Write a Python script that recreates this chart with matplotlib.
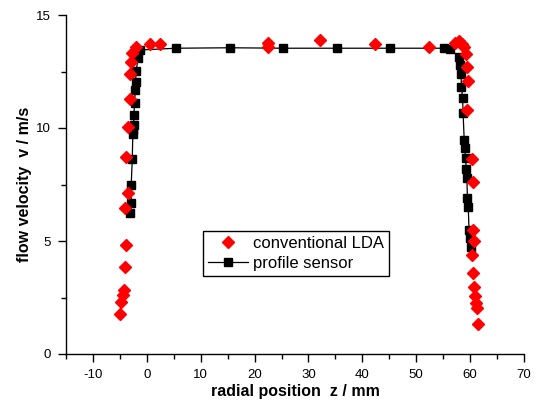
import matplotlib
matplotlib.use("Agg")
import matplotlib.pyplot as plt
from matplotlib.ticker import MultipleLocator

plt.rcParams['font.family'] = ['Liberation Sans', 'DejaVu Sans']
plt.rcParams['axes.unicode_minus'] = False

# conventional LDA measurements (z in mm, v in m/s)
lda_z = [-4.9, -4.7, -4.5, -4.3, -4.1, -3.9, -4.1, -3.5, -3.8, -3.5, -3.2, -3.07,
         -2.9, -2.7, -1.96, 0.5, 2.5, 22.4, 22.4, 32.2, 42.3, 52.3, 57.2, 57.9,
         58.5, 58.9, 59.3, 59.5, 59.65, 59.5, 60.3, 60.6, 60.6, 60.75, 60.3,
         60.45, 60.75, 60.9, 61.1, 61.2, 61.4]
lda_v = [1.77, 2.31, 2.61, 2.83, 3.84, 4.82, 6.45, 7.11, 8.73, 10.06, 11.28, 12.37,
         12.94, 13.3, 13.6, 13.72, 13.72, 13.78, 13.6, 13.9, 13.72, 13.6, 13.77, 13.86,
         13.72, 13.6, 13.27, 12.71, 12.09, 10.8, 8.61, 7.62, 5.49, 5.01, 4.38,
         3.6, 2.98, 2.57, 2.27, 2.02, 1.33]

# profile sensor measurements
ps_z = [-3.07, -2.9, -2.9, -2.7, -2.6, -2.5, -2.46, -2.4, -2.27, -2.15, -2.1, -1.96,
        -1.65, -1.35, 5.4, 15.4, 25.3, 35.3, 45.2, 55.2, 56.3, 57.9, 58.1, 58.3,
        58.4, 58.6, 58.7, 58.9, 59.0, 59.15, 59.3, 59.4, 59.5, 59.65, 59.8, 60.0, 60.1]
ps_v = [6.25, 6.7, 7.48, 8.61, 9.73, 9.91, 10.13, 10.58, 11.12, 11.68, 12.05, 12.54,
        13.08, 13.45, 13.53, 13.55, 13.53, 13.53, 13.53, 13.53, 13.5, 13.13, 12.79, 12.39,
        11.8, 11.31, 10.65, 9.47, 9.1, 8.66, 8.17, 7.77, 6.89, 6.52, 5.49, 5.12, 4.75]

fig = plt.figure(figsize=(5.38, 4.07), dpi=100)
ax = fig.add_axes([66/538, 1 - 354/407, 458/538, 339/407])

ax.plot(ps_z, ps_v, color='black', lw=0.9, marker='s', ms=6.3,
        mfc='black', mec='black', label='profile sensor', zorder=2)
ax.plot(lda_z, lda_v, ls='none', marker='D', ms=5.8, mfc='red', mec='red',
        label='conventional LDA', zorder=3)

ax.set_xlim(-15, 70)
ax.set_ylim(0, 15)
ax.xaxis.set_minor_locator(MultipleLocator(5))
ax.yaxis.set_major_locator(MultipleLocator(5))
ax.yaxis.set_minor_locator(MultipleLocator(2.5))
ax.set_xticks(range(-10, 71, 10))

for s in ('top', 'right'):
    ax.spines[s].set_visible(False)
for s in ('left', 'bottom'):
    ax.spines[s].set_linewidth(1.0)

ax.tick_params(which='major', direction='out', length=6, width=1, labelsize=9.5, pad=5)
ax.tick_params(which='minor', direction='out', length=3.5, width=1)

ax.set_xlabel('radial position  z / mm', fontsize=11.5, fontweight='bold', labelpad=2)
ax.set_ylabel('flow velocity  v / m/s', fontsize=11.5, fontweight='bold', labelpad=3)

handles, labels = ax.get_legend_handles_labels()
leg = ax.legend(handles[::-1], labels[::-1], loc='upper left',
                bbox_to_anchor=(0.299, 0.363), borderaxespad=0, fontsize=12,
                fancybox=False, framealpha=1, edgecolor='black',
                handlelength=2.4, handletextpad=0.3, borderpad=0.3, labelspacing=0.3)
leg.get_frame().set_linewidth(1.0)

fig.savefig('out.png', dpi=100)
